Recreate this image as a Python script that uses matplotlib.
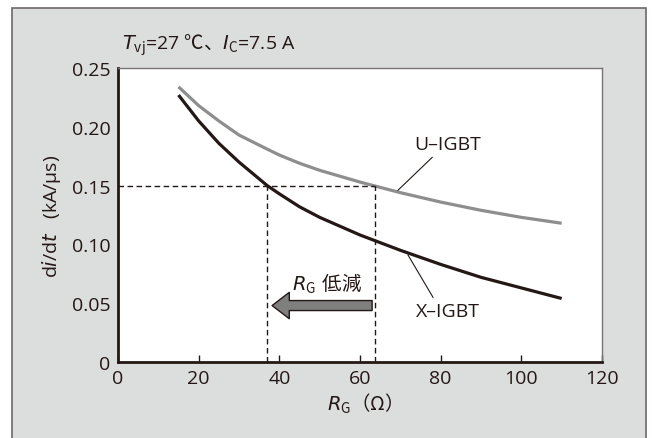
import matplotlib
matplotlib.use("Agg")
import matplotlib.pyplot as plt
from matplotlib.patches import Rectangle

plt.rcParams['font.family'] = ['Open Sans', 'Noto Sans CJK JP', 'DejaVu Sans']
plt.rcParams['mathtext.fontset'] = 'custom'
plt.rcParams['mathtext.rm'] = 'Noto Sans CJK JP'
plt.rcParams['mathtext.it'] = 'DejaVu Sans:italic'
plt.rcParams['mathtext.bf'] = 'DejaVu Sans:bold'

# datos: RG (ohm) y di/dt (kA/us)
rg = [15, 17.5, 20, 25, 30, 37, 40, 45, 50, 60, 70, 80, 90, 100, 110]
x_igbt = [0.227, 0.216, 0.205, 0.186, 0.170, 0.150, 0.143, 0.132, 0.123, 0.108,
          0.095, 0.083, 0.072, 0.063, 0.054]
u_igbt = [0.234, 0.226, 0.218, 0.205, 0.193, 0.181, 0.176, 0.169, 0.163, 0.153,
          0.144, 0.136, 0.129, 0.123, 0.118]

rg_x = 37    # X-IGBT llega a 0.15
rg_u = 63.7  # U-IGBT llega a 0.15
didt_ref = 0.15

xticks = [0, 20, 40, 60, 80, 100, 120]
yticks = [0, 0.05, 0.10, 0.15, 0.20, 0.25]
ytick_labels = ['0', '0.05', '0.10', '0.15', '0.20', '0.25']

black = '#231815'
gray = '#8e8e8e'
panel = '#dcdedd'
fs = 14

fig = plt.figure(figsize=(6.52, 4.39), dpi=100)
W, H = 652, 439
fig.patches.append(Rectangle((12 / W, -0.01), (646 - 12) / W, (H - 9) / H + 0.01,
                             transform=fig.transFigure, facecolor=panel,
                             edgecolor='#6e6868', lw=1.2, zorder=-10))

ax = fig.add_axes([118 / W, 1 - 363 / H, (602 - 118) / W, (363 - 69) / H])
ax.set_facecolor('white')

ax.plot(rg, u_igbt, color=gray, lw=2.3, solid_capstyle='butt')
ax.plot(rg, x_igbt, color=black, lw=2.3, solid_capstyle='butt')

# lineas de referencia
ax.plot([0, rg_u], [didt_ref, didt_ref], color=black, lw=1, ls=(0, (4, 2.5)))
ax.plot([rg_x, rg_x], [0, didt_ref], color=black, lw=1, ls=(0, (4, 2.5)))
ax.plot([rg_u, rg_u], [0, didt_ref], color=black, lw=1, ls=(0, (4, 2.5)))

# etiquetas con lineas guia
ax.plot([77.9, 69.4], [0.174, 0.146], color=black, lw=0.8)
ax.text(81.8, 0.185, 'U–IGBT', ha='center', va='center', fontsize=fs, color=black)
ax.plot([78.1, 71.9], [0.055, 0.091], color=black, lw=0.8)
ax.text(81.8, 0.043, 'X–IGBT', ha='center', va='center', fontsize=fs, color=black)

# flecha de reduccion de RG
ax.annotate('', xy=(38.2, 0.048), xytext=(63, 0.048),
            arrowprops=dict(arrowstyle='simple,head_length=0.62,head_width=0.95,tail_width=0.36',
                            mutation_scale=20, fc='#7f7f7f', ec=black, lw=1,
                            shrinkA=0, shrinkB=0))
ax.text(51.8, 0.067, r'$R_{\mathrm{G}}\ \mathrm{低減}$', ha='center', va='center',
        fontsize=fs, color=black)

ax.set_xlim(0, 120)
ax.set_ylim(0, 0.25)
ax.set_xticks(xticks)
ax.set_yticks(yticks)
ax.set_yticklabels(ytick_labels)
ax.tick_params(axis='x', direction='in', length=5, width=1, colors=black,
               labelsize=fs, pad=5)
ax.tick_params(axis='y', length=0, colors=black, labelsize=fs, pad=5.5)

for side in ['left', 'bottom']:
    ax.spines[side].set_color(black)
    ax.spines[side].set_linewidth(2)
for side in ['top', 'right']:
    ax.spines[side].set_color('#777373')
    ax.spines[side].set_linewidth(1)

ax.set_xlabel(r'$R_{\mathrm{G}}\mathrm{（Ω）}$', fontsize=fs, color=black, labelpad=3)
ax.set_ylabel(r'd$i$/d$t$   (kA/μs)', fontsize=fs, color=black, labelpad=6)

fig.text(122 / W, 1 - 45 / H, r'$T_{\mathrm{vj}}$=27 $\mathrm{℃、}I_{\mathrm{C}}$=7.5 A',
         ha='left', va='center', fontsize=fs, color=black)

fig.savefig('out.png', dpi=100)
